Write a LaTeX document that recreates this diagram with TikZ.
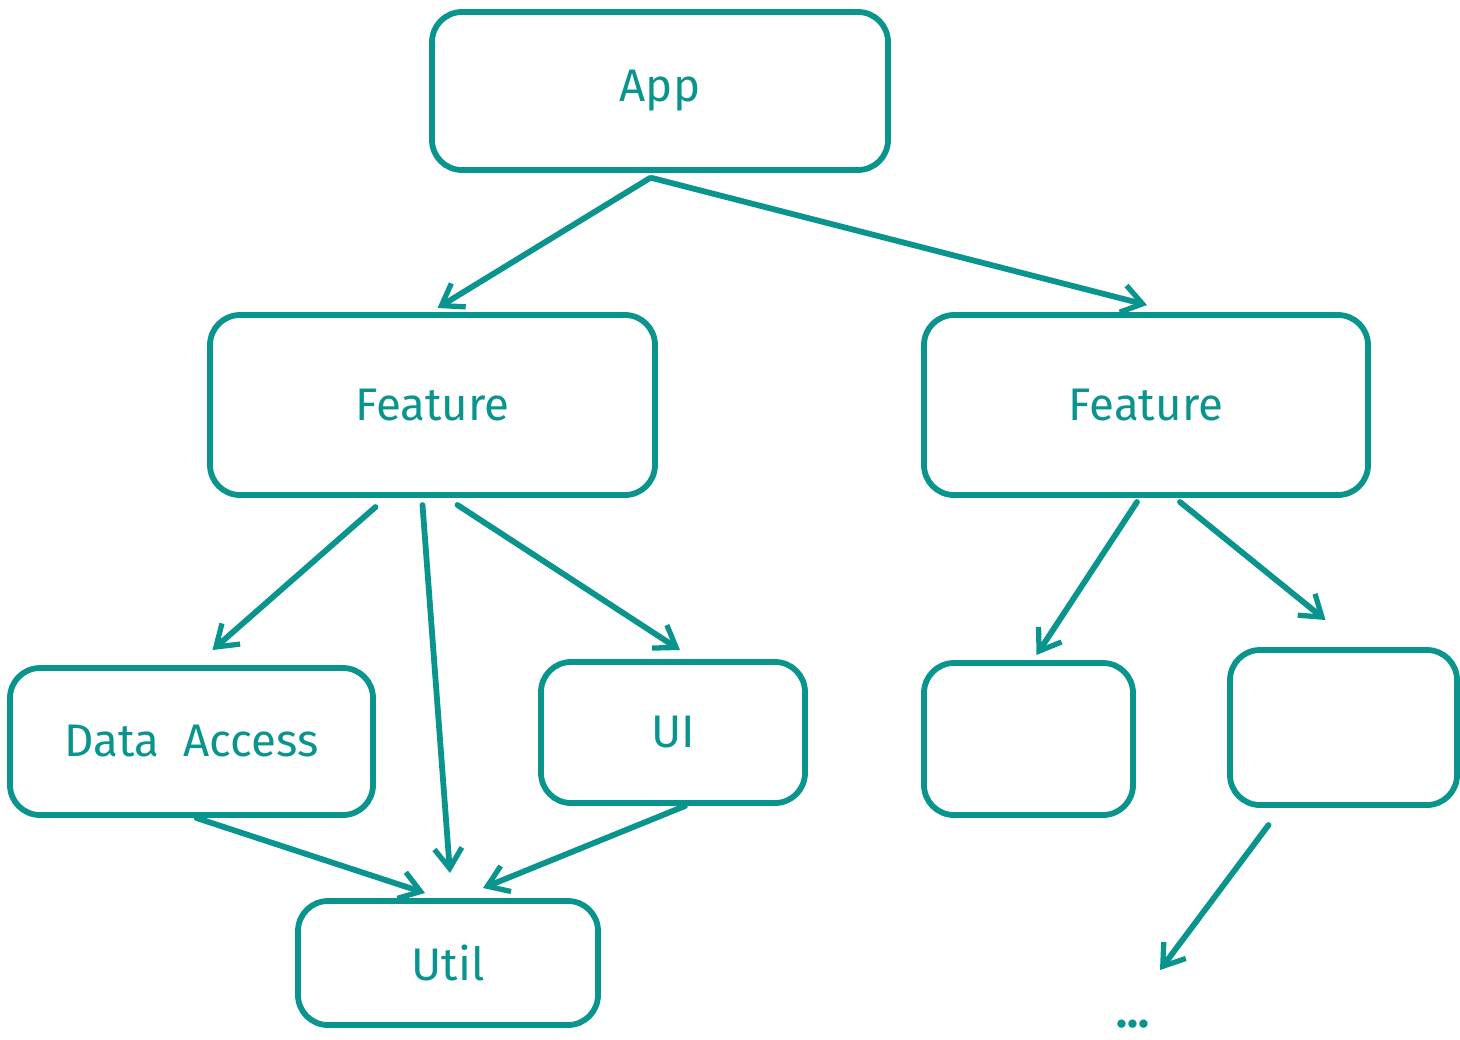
\documentclass[tikz,border=0pt]{standalone}
\usepackage{fontspec}
\setmainfont{Fira Sans}
\usetikzlibrary{arrows.meta,calc}
\definecolor{teal}{RGB}{10,148,142}
\tikzset{
  box/.style 2 args={draw=teal,line width=3.3pt,rounded corners=0.6cm,outer sep=0pt,inner sep=0pt,
    minimum width=#1*0.02cm,minimum height=#2*0.02cm,text=teal},
  link/.style={draw=teal,line width=3.3pt,line cap=round,-{Straight Barb[length=0.4cm,width=0.55cm,line width=3pt]}}
}
\begin{document}
\begin{tikzpicture}[x=0.02cm,y=-0.02cm]
\fontsize{26}{30}\selectfont
\useasboundingbox (0,0) rectangle (1460,1039);
\node[box={456}{158}] (app) at (660,91) {App};
\node[box={445}{180}] (featL) at (432.5,405) {Feature};
\node[box={444}{180}] (featR) at (1146,405) {Feature};
\node[box={363}{147}] (data) at (191.5,741.5) {Data\ \ Access};
\node[box={264}{141}] (ui) at (673,732.5) {UI};
\node[box={209}{152}] (boxA) at (1028.5,739) {};
\node[box={227}{155}] (boxB) at (1343.5,727.5) {};
\node[box={300}{124}] (util) at (448,963) {Util};
\node[text=teal,font=\bfseries] (dots) at (1133,1024) {...};
\draw[link] ($(app.south)+(-10,8)$) -- ($(featL.north)+(5,-7)$);
\draw[link] ($(app.south)+(-8,8)$) -- ($(featR.north)+(1,-10)$);
\draw[link] ($(featL.south)+(-57,12)$) -- ($(data.north)+(21,-18)$);
\draw[link] ($(featL.south)+(-10,10)$) -- ($(util.north)+(2,-28)$);
\draw[link] ($(featL.south)+(25,10)$) -- ($(ui.north)+(7,-12)$);
\draw[link] ($(featR.south)+(-9,7)$) -- ($(boxA.north)+(8,-8)$);
\draw[link] ($(featR.south)+(34,7)$) -- ($(boxB.north)+(-18,-30)$);
\draw[link] ($(boxB.south)+(-75,20)$) -- ($(dots)+(27,-54)$);
\draw[link] ($(data.south)+(5,3)$) -- ($(util.north)+(-23,-8)$);
\draw[link] ($(ui.south)+(12,3)$) -- ($(util.north)+(35,-13)$);
\end{tikzpicture}
\end{document}
